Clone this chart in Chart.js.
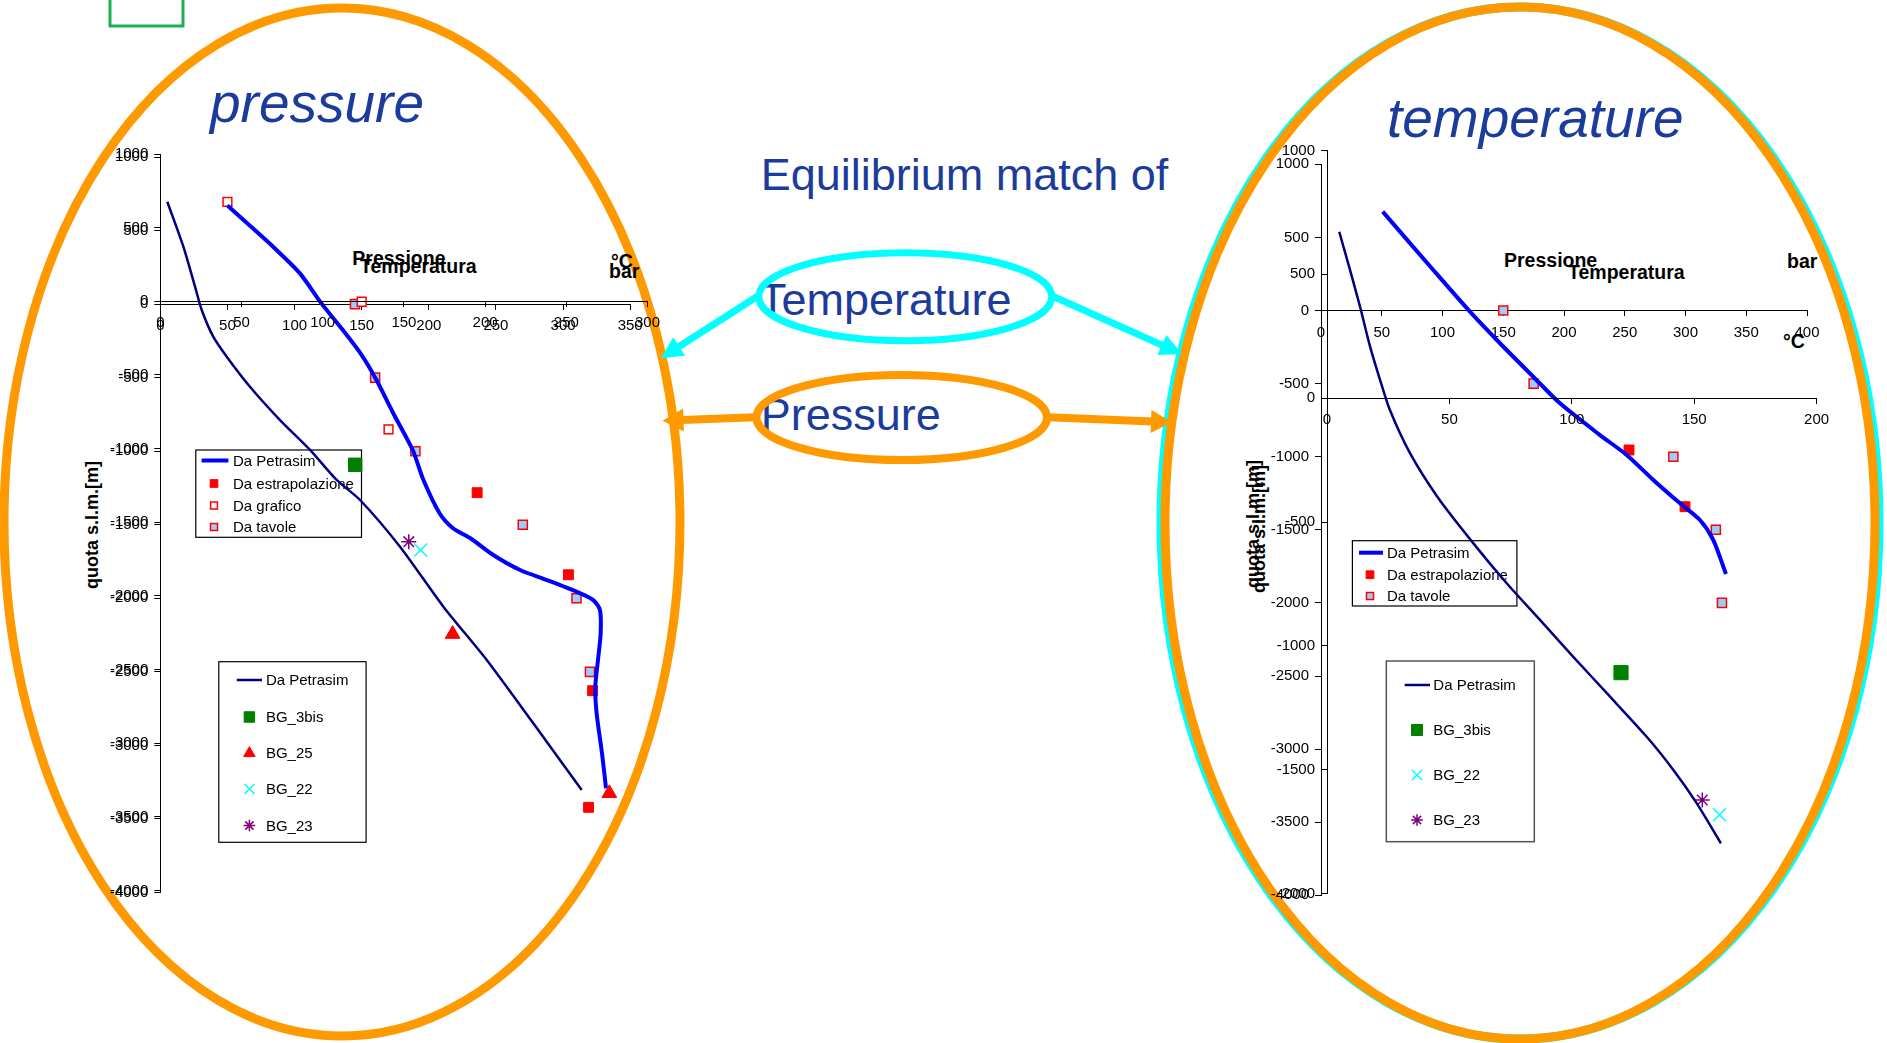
<!DOCTYPE html>
<html>
<head>
<meta charset="utf-8">
<script src="https://cdn.jsdelivr.net/npm/chart.js@4.4.1/dist/chart.umd.min.js"></script>
<style>
  html, body { margin:0; padding:0; background:#fff; overflow:hidden; }
  #stage { position:relative; width:1887px; height:1043px; font-family:"Liberation Sans", Arial, sans-serif; }
  canvas, svg { position:absolute; left:0; top:0; }
  .t { position:absolute; white-space:nowrap; line-height:1; }
  .big { color:#1C3C9C; font-size:45px; }
  .ital { color:#1C3C9C; font-size:55px; font-style:italic; }
  .ax { color:#000; font-size:19.5px; font-weight:bold; }
  .yt { color:#000; font-size:18px; font-weight:bold; transform:translate(-50%,-50%) rotate(-90deg); }
</style>
</head>
<body>
<div id="stage">
  <div class="t ital" style="left:210px; top:76px;">pressure</div>
  <div class="t ital" style="left:1387px; top:90.5px;">temperature</div>
  <div class="t big" style="left:760.7px; top:151.9px;">Equilibrium match of</div>
  <div class="t big" style="left:759px; top:276.9px;">Temperature</div>
  <div class="t big" style="left:760.7px; top:391.9px;">Pressure</div>

  <svg id="deco" width="1887" height="1043"></svg>

  <div class="t ax" style="left:352.3px; top:248.5px;">Pressione</div>
  <div class="t ax" style="left:360px; top:256.8px;">Temperatura</div>
  <div class="t ax" style="left:611px; top:251.5px;">°C</div>
  <div class="t ax" style="left:609px; top:261.8px;">bar</div>
  <div class="t ax" style="left:1504px; top:250.8px;">Pressione</div>
  <div class="t ax" style="left:1568px; top:263px;">Temperatura</div>
  <div class="t ax" style="left:1787px; top:251.8px;">bar</div>
  <div class="t ax" style="left:1783px; top:331.8px;">°C</div>

  <div class="t yt" style="left:91.5px; top:525px;">quota s.l.m.[m]</div>
  <div class="t yt" style="left:1253px; top:524px;">quota s.l.m.[m]</div>
  <div class="t yt" style="left:1259px; top:529px;">quota s.l.m.[m]</div>

  <canvas id="cL1" width="1887" height="1043"></canvas>
  <canvas id="cL2" width="1887" height="1043"></canvas>
  <canvas id="cR1" width="1887" height="1043"></canvas>
  <canvas id="cR2" width="1887" height="1043"></canvas>
</div>
<script>
// ---------------- DATA ----------------
// Left panel, chart 1 (x: 0-350, y: -4000..1000)
const L1_petrasim = [[50,670],[67,531],[84,390],[104,209],[120,5],[134,-154],[149,-334],[161,-516],[173.5,-742],[188,-992],[196,-1196],[208,-1422],[218,-1524],[231,-1592],[248,-1706],[268,-1808],[288,-1876],[310,-1955],[322.5,-2012],[327.5,-2080],[328,-2238],[326,-2419],[324,-2601],[325,-2782],[329,-3054],[332,-3292]];
const L1_estrapolazione = [[236,-1282],[304,-1840],[322,-2628],[319,-3421]];
const L1_grafico = [[50,695],[150,16],[170,-851]];
const L1_tavole = [[145,0],[160,-500],[190,-1000],[270,-1500],[310,-2000],[320,-2500]];

// Left panel, chart 2 (x: 0-300, y: -4000..1000)
const L2_petrasim = [[4.3,676],[14.2,371],[21.4,99],[25.5,-59],[32.6,-240],[40.9,-376],[55.2,-580],[73.7,-806],[92.2,-1009],[108.6,-1213],[123,-1349],[147.6,-1666],[174.3,-2073],[201,-2435],[229.7,-2865],[259.5,-3318]];
const L2_bg3bis = [[120,-1110]];
const L2_bg25 = [[180,-2259],[276.5,-3340]];
const L2_bg22 = [[160.3,-1688]];
const L2_bg23 = [[153,-1632]];

// Right panel, chart 1 (x: 0-400, y: -4000..1000)
const R1_petrasim = [[50.8,676],[92.4,277],[122.6,-8],[147.3,-224],[174.7,-453],[196.7,-635],[229.6,-852],[251.6,-988],[273.5,-1159],[295.5,-1319],[311.9,-1433],[322.9,-1570],[333.3,-1802]];
const R1_estrapolazione = [[253.5,-954],[299.6,-1342]];
const R1_tavole = [[150,0],[175,-500],[290,-1000],[325,-1500],[330,-2000]];

// Right panel, chart 2 (x: 0-200, y: -2000..1000)
const R2_petrasim = [[5,672],[9.4,518],[13.5,369],[17.6,208],[21.7,73],[25.7,-48],[33.9,-222],[45.5,-404],[59.8,-586],[73.4,-747],[87,-895],[100.6,-1044],[114.3,-1191],[130.6,-1367],[141.5,-1501],[151,-1635],[160.9,-1797]];
const R2_bg3bis = [[120.1,-1108]];
const R2_bg22 = [[160.3,-1682]];
const R2_bg23 = [[153.3,-1622]];

// Axis ranges
const L1_xMax = 350, L2_xMax = 300, R1_xMax = 400, R2_xMax = 200;
const L1_yRange = [-4000, 1000], L2_yRange = [-4000, 1000], R1_yRange = [-4000, 1000], R2_yRange = [-2000, 1000];
const xStep = 50, yStep = 500;

// ---------------- helpers ----------------
const W = 1887, H = 1043, YW = 80;
const FONT = '"Liberation Sans", Arial, sans-serif';
Chart.defaults.font.family = FONT;
Chart.defaults.font.size = 15;
Chart.defaults.color = '#000';

const pts = a => a.map(([x, y]) => ({x, y}));

function lineDS(label, data, color, width) {
  return {label, data: pts(data), showLine: true, borderColor: color, backgroundColor: color,
    borderWidth: width, pointRadius: 0, tension: 0.25, fill: false};
}
function markDS(label, data, style, r, fill, stroke, bw) {
  return {label, data: pts(data), showLine: false, pointStyle: style, pointRadius: r,
    backgroundColor: fill, borderColor: stroke, borderWidth: bw, pointHoverRadius: r};
}

function drawMarker(ctx, style, x, y, r, fill, stroke, bw) {
  ctx.save();
  ctx.fillStyle = fill; ctx.strokeStyle = stroke; ctx.lineWidth = bw;
  ctx.beginPath();
  if (style === 'rect') {
    const s = r * Math.SQRT1_2;
    ctx.rect(x - s, y - s, 2 * s, 2 * s); ctx.fill(); ctx.stroke();
  } else if (style === 'triangle') {
    ctx.moveTo(x, y - r);
    ctx.lineTo(x + r * Math.sin(2 * Math.PI / 3), y - r * Math.cos(2 * Math.PI / 3));
    ctx.lineTo(x + r * Math.sin(4 * Math.PI / 3), y - r * Math.cos(4 * Math.PI / 3));
    ctx.closePath(); ctx.fill(); ctx.stroke();
  } else if (style === 'crossRot') {
    const o = r * Math.SQRT1_2;
    ctx.moveTo(x - o, y - o); ctx.lineTo(x + o, y + o);
    ctx.moveTo(x - o, y + o); ctx.lineTo(x + o, y - o); ctx.stroke();
  } else if (style === 'star') {
    const o = r * Math.SQRT1_2;
    ctx.moveTo(x, y - r); ctx.lineTo(x, y + r);
    ctx.moveTo(x - r, y); ctx.lineTo(x + r, y);
    ctx.moveTo(x - o, y - o); ctx.lineTo(x + o, y + o);
    ctx.moveTo(x - o, y + o); ctx.lineTo(x + o, y - o); ctx.stroke();
  }
  ctx.restore();
}

function legendPlugin(cfg) {
  return {
    id: 'boxLegend',
    afterDraw(chart) {
      const ctx = chart.ctx;
      ctx.save();
      ctx.fillStyle = '#fff';
      ctx.fillRect(cfg.x, cfg.y, cfg.w, cfg.h);
      ctx.strokeStyle = cfg.border; ctx.lineWidth = cfg.bw;
      ctx.strokeRect(cfg.x, cfg.y, cfg.w, cfg.h);
      ctx.font = '15px ' + FONT;
      ctx.textBaseline = 'middle'; ctx.textAlign = 'left';
      chart.data.datasets.forEach((ds, i) => {
        const y = cfg.rows[i];
        if (ds.showLine) {
          ctx.beginPath();
          ctx.strokeStyle = ds.borderColor; ctx.lineWidth = ds.borderWidth;
          ctx.moveTo(cfg.lineX[0], y); ctx.lineTo(cfg.lineX[1], y); ctx.stroke();
        } else {
          drawMarker(ctx, ds.pointStyle, cfg.markX, y, ds.pointRadius * 0.78,
            ds.backgroundColor, ds.borderColor, ds.borderWidth);
        }
        ctx.fillStyle = '#000';
        ctx.fillText(ds.label, cfg.textX, y + 1);
      });
      ctx.restore();
    }
  };
}

function makeChart(id, rect, xMax, yRange, datasets, legendCfg) {
  return new Chart(document.getElementById(id), {
    type: 'scatter',
    data: {datasets},
    options: {
      responsive: false, animation: false, devicePixelRatio: 1,
      events: [],
      layout: {padding: {left: rect.left - YW, right: W - rect.right, top: rect.top, bottom: H - rect.bottom}},
      plugins: {legend: {display: false}, tooltip: {enabled: false}},
      scales: {
        x: {
          type: 'linear', min: 0, max: xMax, position: {y: 0},
          ticks: {stepSize: xStep, autoSkip: false, maxRotation: 0, padding: 8, color: '#000',
            callback: v => String(v)},
          grid: {drawOnChartArea: false, tickLength: 5, color: '#000', tickWidth: 1},
          border: {color: '#000', width: 1}
        },
        y: {
          type: 'linear', min: yRange[0], max: yRange[1], position: 'left',
          afterFit: s => { s.width = YW; },
          ticks: {stepSize: yStep, autoSkip: false, padding: 6, color: '#000',
            callback: v => String(v)},
          grid: {drawOnChartArea: false, tickLength: 6, color: '#000', tickWidth: 1},
          border: {color: '#000', width: 1}
        }
      }
    },
    plugins: [legendPlugin(legendCfg)]
  });
}

const BLUE = '#0000FF', NAVY = '#000080', RED = '#FF0000', LB = '#99CCFF',
      GREEN = '#008000', CYAN = '#00FFFF', PURPLE = '#800080';

// Left chart 1
makeChart('cL1', {left: 160.3, right: 630.2, top: 157, bottom: 892.5}, L1_xMax, L1_yRange, [
  lineDS('Da Petrasim', L1_petrasim, BLUE, 4),
  markDS('Da estrapolazione', L1_estrapolazione, 'rect', 7, RED, RED, 1),
  markDS('Da grafico', L1_grafico, 'rect', 6.2, '#FFFFFF', RED, 1.5),
  markDS('Da tavole', L1_tavole, 'rect', 6.4, LB, RED, 1.5)
], {x: 195.8, y: 450, w: 165.7, h: 87.3, border: '#000', bw: 1.2,
    rows: [460.5, 483.5, 505.5, 527], lineX: [201.6, 228.4], markX: 214, textX: 233});

// Left chart 2
makeChart('cL2', {left: 160.3, right: 647.5, top: 154, bottom: 890.5}, L2_xMax, L2_yRange, [
  lineDS('Da Petrasim', L2_petrasim, NAVY, 2.5),
  markDS('BG_3bis', L2_bg3bis, 'rect', 9.5, GREEN, GREEN, 1),
  markDS('BG_25', L2_bg25, 'triangle', 8.5, RED, RED, 1),
  markDS('BG_22', L2_bg22, 'crossRot', 9.2, CYAN, CYAN, 1.5),
  markDS('BG_23', L2_bg23, 'star', 7.5, PURPLE, PURPLE, 1.5)
], {x: 218.8, y: 661.7, w: 147.3, h: 180.6, border: '#000', bw: 1.2,
    rows: [680, 717, 753.3, 789, 825.5], lineX: [236.8, 262], markX: 249.4, textX: 265.9});

// Right chart 1
makeChart('cR1', {left: 1321, right: 1807, top: 164.3, bottom: 895.3}, R1_xMax, R1_yRange, [
  lineDS('Da Petrasim', R1_petrasim, BLUE, 4),
  markDS('Da estrapolazione', R1_estrapolazione, 'rect', 7, RED, RED, 1),
  markDS('Da tavole', R1_tavole, 'rect', 6.4, LB, RED, 1.5)
], {x: 1352.4, y: 540.7, w: 164.5, h: 65.3, border: '#000', bw: 1.2,
    rows: [552.7, 574.7, 596], lineX: [1359, 1383], markX: 1370, textX: 1387});

// Right chart 2
makeChart('cR2', {left: 1327, right: 1816.6, top: 150.5, bottom: 893.6}, R2_xMax, R2_yRange, [
  lineDS('Da Petrasim', R2_petrasim, NAVY, 2.5),
  markDS('BG_3bis', R2_bg3bis, 'rect', 10, GREEN, GREEN, 1),
  markDS('BG_22', R2_bg22, 'crossRot', 9.2, CYAN, CYAN, 1.5),
  markDS('BG_23', R2_bg23, 'star', 7.5, PURPLE, PURPLE, 1.5)
], {x: 1386.3, y: 661, w: 148, h: 180.7, border: '#555', bw: 1.5,
    rows: [685, 730, 775, 820], lineX: [1404.7, 1430], markX: 1417, textX: 1433.3});

// ---------------- decorations (slide shapes) ----------------
(function () {
  const svg = document.getElementById('deco');
  const NS = 'http://www.w3.org/2000/svg';
  function el(tag, attrs) {
    const e = document.createElementNS(NS, tag);
    for (const k in attrs) e.setAttribute(k, attrs[k]);
    svg.appendChild(e); return e;
  }
  el('rect', {x: 110, y: -10, width: 73, height: 36, fill: 'none', stroke: '#1DB052', 'stroke-width': 3});
  el('ellipse', {cx: 342, cy: 522, rx: 338, ry: 514, fill: 'none', stroke: '#FF9900', 'stroke-width': 9});
  el('ellipse', {cx: 1520, cy: 523, rx: 359, ry: 516, fill: 'none', stroke: '#00FFFF', 'stroke-width': 9});
  el('ellipse', {cx: 1520, cy: 523, rx: 355, ry: 516, fill: 'none', stroke: '#FF9900', 'stroke-width': 9});
  el('ellipse', {cx: 905.3, cy: 296.7, rx: 146.5, ry: 44, fill: 'none', stroke: '#00FFFF', 'stroke-width': 7});
  el('ellipse', {cx: 901.7, cy: 417.5, rx: 145.3, ry: 42.5, fill: 'none', stroke: '#FF9900', 'stroke-width': 8});
  function arrow(x1, y1, x2, y2, color, w, hl, hw) {
    const dx = x2 - x1, dy = y2 - y1, L = Math.hypot(dx, dy), ux = dx / L, uy = dy / L;
    const bx = x2 - ux * hl, by = y2 - uy * hl, px = -uy, py = ux;
    el('line', {x1, y1, x2: bx + ux * 2, y2: by + uy * 2, stroke: color, 'stroke-width': w});
    el('polygon', {points: `${x2},${y2} ${bx + px * hw},${by + py * hw} ${bx - px * hw},${by - py * hw}`, fill: color});
  }
  arrow(758, 296, 660.7, 358.3, '#00FFFF', 7, 22, 11);
  arrow(1050, 295, 1182, 354, '#00FFFF', 7, 22, 11);
  arrow(755.4, 417.3, 662.5, 420.7, '#FF9900', 8, 21, 11.5);
  arrow(1048, 417.3, 1172, 422.3, '#FF9900', 8, 21, 11.5);
})();
</script>
</body>
</html>
